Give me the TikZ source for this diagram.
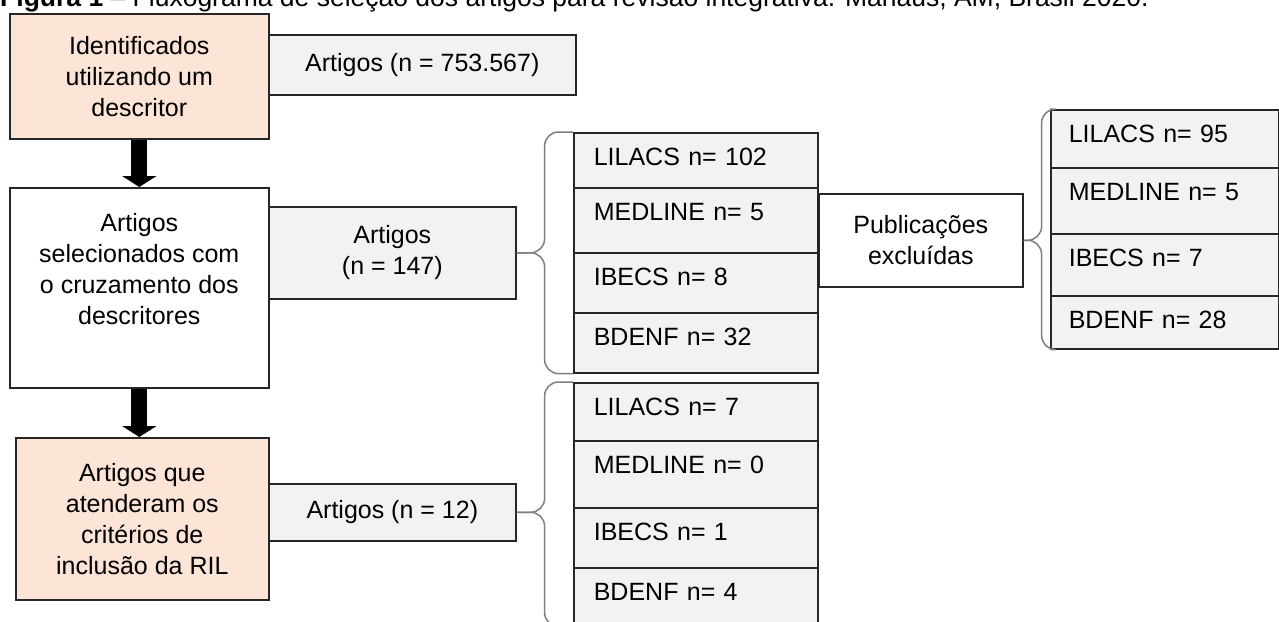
\documentclass[tikz,border=0pt]{standalone}
\usepackage{fontspec}
\setmainfont{Liberation Sans}
\usetikzlibrary{arrows.meta,positioning,calc}
\definecolor{peach}{HTML}{FCE4D6}
\definecolor{cellgray}{HTML}{F2F2F2}
\definecolor{edge}{HTML}{262626}
\definecolor{bracegray}{HTML}{7F7F7F}

\begin{document}
\begin{tikzpicture}[
  x=1pt, y=-1pt,
  font=\fontsize{25}{31}\selectfont,
  box/.style={draw=edge, line width=1.6pt, anchor=north west, align=center, inner sep=0pt},
  cell/.style={draw=edge, line width=1.6pt, fill=cellgray, anchor=north west, align=left, inner xsep=20pt, inner ysep=0pt, text width=204pt, text height=33pt},
  bigarrow/.style={line width=16pt, -{Triangle[width=34pt, length=11pt]}},
  brace/.style={draw=bracegray, line width=1.5pt, rounded corners=14pt}
]
\path[use as bounding box, fill=white] (0,0) rectangle (1279,621);
\clip (0,0) rectangle (1279,621);

\node[anchor=base west, inner sep=0pt, font=\fontsize{26.5}{30}\selectfont] (title) at (0,6) {\textbf{Figura 1} – Fluxograma de seleção dos artigos para revisão integrativa. Manaus, AM, Brasil 2020.};

% left column
\node[box, fill=peach, minimum width=259pt, minimum height=125pt] (ident) at (9,13) {Identificados\\utilizando um\\descritor};
\node[box, fill=cellgray, minimum width=307pt, minimum height=60pt] (found) at (268,34) {Artigos (n = 753.567)};
\node[box, fill=white, minimum width=259pt, minimum height=200pt] (cross) at (9,187) {\parbox[c][148pt][t]{250pt}{\centering Artigos\\selecionados com\\o cruzamento dos\\descritores}};
\node[box, fill=cellgray, minimum width=247pt, minimum height=92pt] (sel) at (268,206) {Artigos\\(n = 147)};
\node[box, fill=peach, minimum width=253pt, minimum height=162pt] (incl) at (15,437) {Artigos que\\atenderam os\\critérios de\\inclusão da RIL};
\node[box, fill=cellgray, minimum width=247pt, minimum height=57pt] (final) at (268,483) {Artigos (n = 12)};

\draw[bigarrow] (ident.south) -- (cross.north);
\draw[bigarrow] (cross.south) -- (cross.south |- incl.north);

% bases, selected
\node[cell, text depth=22pt] (lilsel) at (573,132) {LILACS n= 102};
\node[cell, text depth=32pt] (medsel) at (573,187) {MEDLINE n= 5};
\node[cell, text depth=27pt] (ibesel) at (573,252) {IBECS n= 8};
\node[cell, text depth=27pt] (bdesel) at (573,312) {BDENF n= 32};

% bases, included
\node[cell, text depth=25pt] (lilinc) at (573,382) {LILACS n= 7};
\node[cell, text depth=34pt] (medinc) at (573,440) {MEDLINE n= 0};
\node[cell, text depth=27pt] (ibeinc) at (573,507) {IBECS n= 1};
\node[cell, text depth=25pt] (bdeinc) at (573,567) {BDENF n= 4};

\node[box, fill=white, minimum width=204pt, minimum height=93pt] (excl) at (818,193) {Publicações\\excluídas};

% bases, excluded
\node[cell, inner xsep=18pt, text width=192pt, text depth=25pt] (lilexc) at (1050,109) {LILACS n= 95};
\node[cell, inner xsep=18pt, text width=192pt, text depth=33pt] (medexc) at (1050,167) {MEDLINE n= 5};
\node[cell, inner xsep=18pt, text width=192pt, text depth=29pt] (ibeexc) at (1050,233) {IBECS n= 7};
\node[cell, inner xsep=18pt, text width=192pt, text depth=20pt] (bdeexc) at (1050,295) {BDENF n= 28};

% braces
\draw[brace] (lilsel.north west) -| ($(sel.east)+(28,0)$) -- (sel.east);
\draw[brace] (sel.east) -- ($(sel.east)+(28,0)$) |- (bdesel.south west);
\draw[brace] (lilinc.north west) -| ($(final.east)+(28,0)$) -- (final.east);
\draw[brace] (final.east) -- ($(final.east)+(28,0)$) |- (bdeinc.south west);
\draw[brace] (lilexc.north west) -| ($(excl.east)+(18,0)$) -- (excl.east);
\draw[brace] (excl.east) -- ($(excl.east)+(18,0)$) |- (bdeexc.south west);
\end{tikzpicture}
\end{document}
